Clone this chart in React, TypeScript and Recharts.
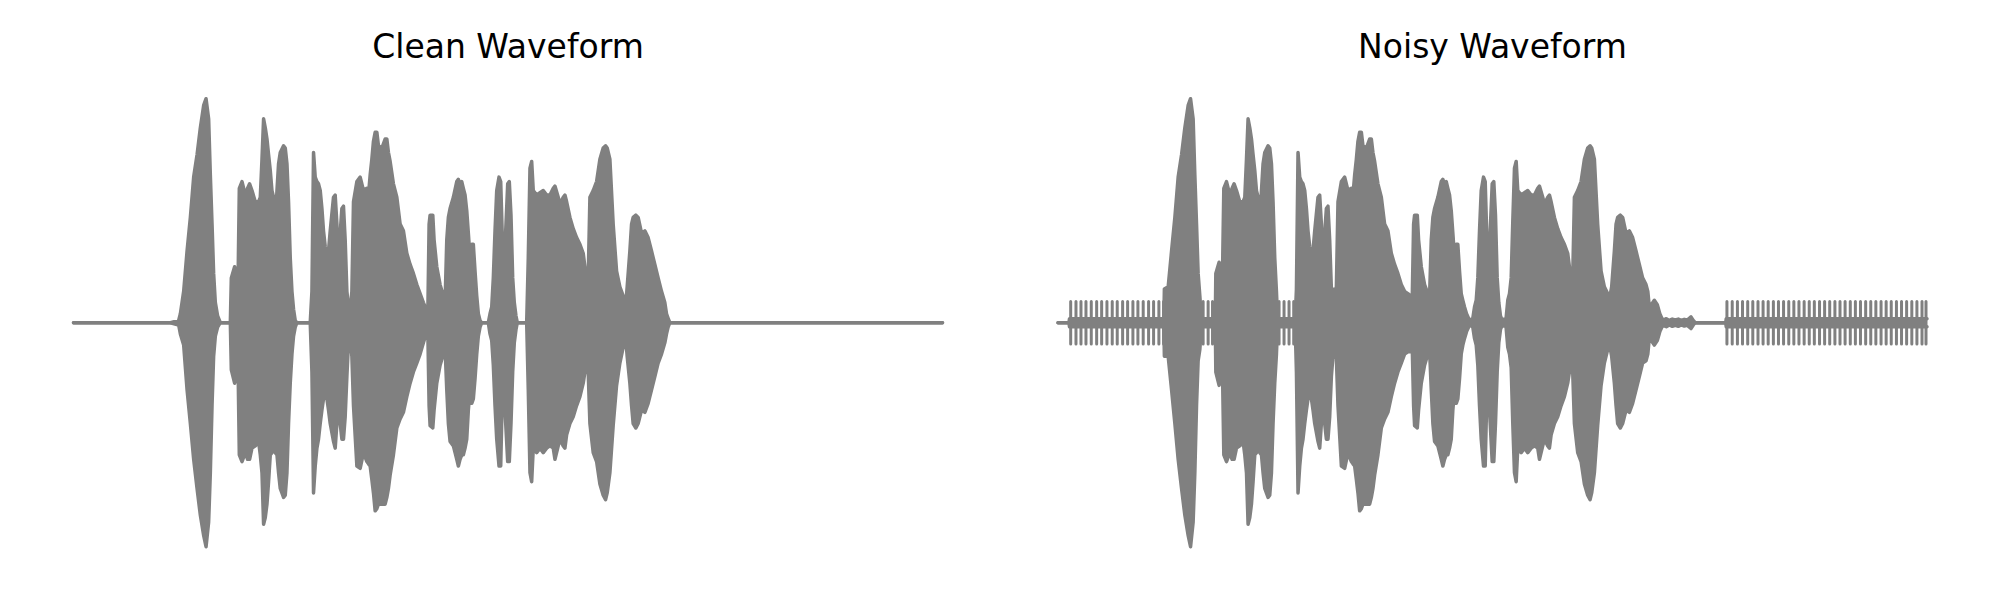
import React from 'react';
import { ComposedChart, Area, Line, XAxis, YAxis } from 'recharts';

const panelTitles = ['Clean Waveform', 'Noisy Waveform'];

// [time (frame), upper envelope, lower envelope]
const cleanEnvelope: [number, number, number][] = [
  [0, 0, 0], [97, 0, 0], [105.3, 0.01, -0.01], [107, 0.04, -0.05], [110.3, 0.14, -0.1],
  [113.7, 0.32, -0.3], [117, 0.47, -0.45], [120.3, 0.65, -0.61], [123.7, 0.75, -0.74],
  [127, 0.87, -0.86], [130.3, 0.97, -0.95], [132.7, 1.0, -1.0], [135.3, 0.91, -0.89],
  [137, 0.66, -0.67], [138.7, 0.44, -0.37], [140.3, 0.22, -0.15], [142, 0.09, -0.06],
  [144.3, 0.03, -0.02], [147, 0, 0], [157, 0, 0], [158, 0.2, -0.21], [161.3, 0.25, -0.27],
  [164.7, 0.17, -0.18], [166, 0.6, -0.59], [168.7, 0.63, -0.62], [172, 0.57, -0.58],
  [174.3, 0.6, -0.61], [176.3, 0.62, -0.61], [178.7, 0.59, -0.56], [182, 0.54, -0.55],
  [185.3, 0.54, -0.53], [187, 0.56, -0.59], [188.7, 0.73, -0.67], [190.3, 0.91, -0.9],
  [192, 0.87, -0.87], [193.7, 0.82, -0.81], [195.3, 0.75, -0.71], [197, 0.68, -0.59],
  [198.7, 0.59, -0.58], [200.3, 0.56, -0.56], [202, 0.44, -0.58], [203.7, 0.59, -0.59],
  [205.3, 0.71, -0.67], [207, 0.76, -0.74], [210.3, 0.79, -0.78], [212, 0.78, -0.77],
  [213.7, 0.71, -0.67], [215.3, 0.54, -0.45], [217, 0.29, -0.27], [218.7, 0.14, -0.14],
  [220.3, 0.06, -0.06], [222, 0.01, -0.02], [223.7, 0, 0], [237, 0, 0], [238.7, 0.14, -0.22],
  [240.3, 0.76, -0.76], [242, 0.65, -0.64], [243.7, 0.63, -0.56], [245.3, 0.62, -0.52],
  [247, 0.59, -0.45], [248.7, 0.51, -0.39], [250.3, 0.41, -0.34], [252, 0.34, -0.33],
  [253.7, 0.29, -0.34], [255.3, 0.32, -0.39], [257, 0.41, -0.45], [260.3, 0.56, -0.53],
  [262, 0.57, -0.56], [263.7, 0.44, -0.45], [265.3, 0.2, -0.27], [267, 0.4, -0.45],
  [268.7, 0.51, -0.52], [270.3, 0.52, -0.52], [272, 0.37, -0.42], [273.7, 0.14, -0.24],
  [275.3, 0.07, -0.09], [277, 0.06, -0.06], [278.7, 0.14, -0.15], [280.3, 0.54, -0.37],
  [283.7, 0.63, -0.64], [287, 0.65, -0.65], [290.3, 0.59, -0.58], [293.7, 0.6, -0.62],
  [295.3, 0.57, -0.63], [297, 0.66, -0.64], [298.7, 0.73, -0.7], [300.3, 0.81, -0.76],
  [302, 0.85, -0.84], [303.7, 0.85, -0.83], [305.3, 0.79, -0.81], [308.7, 0.78, -0.81],
  [312, 0.82, -0.81], [313.7, 0.82, -0.78], [315.3, 0.76, -0.74], [317, 0.72, -0.68],
  [320.3, 0.62, -0.59], [323.7, 0.56, -0.47], [327, 0.44, -0.43], [330.3, 0.41, -0.4],
  [333.7, 0.31, -0.33], [337, 0.26, -0.27], [340.3, 0.22, -0.22], [343.7, 0.17, -0.18],
  [347, 0.13, -0.14], [350.3, 0.09, -0.09], [353, 0.06, -0.05], [354.7, 0.03, -0.03],
  [356, 0.44, -0.37], [357, 0.48, -0.46], [359.7, 0.48, -0.47], [361, 0.37, -0.39],
  [363.7, 0.25, -0.27], [367, 0.17, -0.19], [370.3, 0.12, -0.14], [372, 0.09, -0.11],
  [373.7, 0.37, -0.3], [375.3, 0.47, -0.45], [377, 0.51, -0.53], [380.3, 0.56, -0.55],
  [383.7, 0.63, -0.61], [385.3, 0.64, -0.64], [387, 0.62, -0.61], [388.7, 0.63, -0.59],
  [390.3, 0.6, -0.59], [392, 0.57, -0.56], [393.7, 0.5, -0.52], [395.3, 0.4, -0.39],
  [397, 0.29, -0.3], [398.7, 0.35, -0.36], [400.3, 0.35, -0.34], [402, 0.23, -0.25],
  [403.7, 0.12, -0.14], [405.3, 0.04, -0.06], [407, 0.01, -0.02], [408.7, 0, 0],
  [415.3, 0, 0], [417, 0.04, -0.05], [418.7, 0.07, -0.08], [420.3, 0.2, -0.19],
  [422, 0.41, -0.37], [423.7, 0.59, -0.52], [426, 0.65, -0.64], [427.7, 0.63, -0.64],
  [429.7, 0.32, -0.25], [431, 0.22, -0.3], [432.7, 0.41, -0.45], [434.7, 0.62, -0.62],
  [436.3, 0.63, -0.62], [438, 0.48, -0.45], [439.7, 0.2, -0.22], [441.3, 0.09, -0.09],
  [443, 0.03, -0.03], [444.3, 0, 0], [453.7, 0, 0], [455.3, 0.29, -0.3], [457, 0.69, -0.67],
  [458.7, 0.72, -0.71], [460.3, 0.59, -0.56], [463.7, 0.57, -0.58], [467, 0.58, -0.56],
  [470.3, 0.59, -0.58], [473.7, 0.57, -0.56], [477, 0.57, -0.55], [480.3, 0.6, -0.56],
  [482, 0.61, -0.61], [485.3, 0.56, -0.55], [487, 0.53, -0.52], [490.3, 0.56, -0.55],
  [492, 0.57, -0.56], [493.7, 0.54, -0.5], [497, 0.47, -0.45], [500.3, 0.42, -0.42],
  [503.7, 0.38, -0.37], [507, 0.35, -0.33], [510.3, 0.31, -0.27], [512, 0.25, -0.22],
  [513.7, 0.19, -0.19], [515.3, 0.2, -0.22], [517, 0.56, -0.45], [520.3, 0.59, -0.58],
  [523.7, 0.63, -0.62], [527, 0.73, -0.72], [530.3, 0.78, -0.77], [532.7, 0.79, -0.79],
  [534.3, 0.78, -0.76], [537, 0.73, -0.67], [540.3, 0.44, -0.46], [543.7, 0.23, -0.28],
  [547, 0.16, -0.18], [550.3, 0.12, -0.11], [552.7, 0.07, -0.06], [554.3, 0.16, -0.15],
  [557, 0.32, -0.27], [558.7, 0.44, -0.37], [560.3, 0.47, -0.45], [563, 0.48, -0.47],
  [565.3, 0.47, -0.45], [568.7, 0.4, -0.39], [572, 0.41, -0.4], [575.3, 0.38, -0.36],
  [578.7, 0.32, -0.3], [582, 0.26, -0.24], [585.3, 0.2, -0.18], [588.7, 0.14, -0.14],
  [592, 0.09, -0.09], [593.7, 0.04, -0.05], [595.3, 0.02, -0.02], [597, 0, 0], [870, 0, 0],
];

const noisyEnvelope: [number, number, number][] = [
  [0, 0, 0], [11, 0, 0], [11.5, 0.018, -0.018], [106, 0.018, -0.018], [106.5, 0.15, -0.15],
  [110.3, 0.16, -0.15], [113.7, 0.32, -0.3], [117, 0.47, -0.45], [120.3, 0.65, -0.61],
  [123.7, 0.75, -0.74], [127, 0.87, -0.86], [130.3, 0.97, -0.95], [132.7, 1.0, -1.0],
  [135.3, 0.91, -0.89], [137, 0.66, -0.67], [138.7, 0.44, -0.37], [140.3, 0.22, -0.17],
  [142, 0.12, -0.12], [143.5, 0.018, -0.018], [157.5, 0.018, -0.018], [158, 0.22, -0.22],
  [161.3, 0.27, -0.28], [164.7, 0.22, -0.22], [166, 0.6, -0.59], [168.7, 0.63, -0.62],
  [172, 0.57, -0.58], [174.3, 0.6, -0.61], [176.3, 0.62, -0.61], [178.7, 0.59, -0.56],
  [182, 0.54, -0.55], [185.3, 0.54, -0.53], [187, 0.56, -0.59], [188.7, 0.73, -0.67],
  [190.3, 0.91, -0.9], [192, 0.87, -0.87], [193.7, 0.82, -0.81], [195.3, 0.75, -0.71],
  [197, 0.68, -0.59], [198.7, 0.59, -0.58], [200.3, 0.56, -0.56], [202, 0.44, -0.58],
  [203.7, 0.59, -0.59], [205.3, 0.71, -0.67], [207, 0.76, -0.74], [210.3, 0.79, -0.78],
  [212, 0.78, -0.77], [213.7, 0.71, -0.67], [215.3, 0.54, -0.45], [217, 0.29, -0.27],
  [218.7, 0.14, -0.14], [219.8, 0.018, -0.018], [237.5, 0.018, -0.018], [238.7, 0.15, -0.22],
  [240.3, 0.76, -0.76], [242, 0.65, -0.64], [243.7, 0.63, -0.56], [245.3, 0.62, -0.52],
  [247, 0.59, -0.45], [248.7, 0.51, -0.39], [250.3, 0.41, -0.34], [252, 0.34, -0.33],
  [253.7, 0.29, -0.34], [255.3, 0.32, -0.39], [257, 0.41, -0.45], [260.3, 0.56, -0.53],
  [262, 0.57, -0.56], [263.7, 0.44, -0.45], [265.3, 0.2, -0.27], [267, 0.4, -0.45],
  [268.7, 0.51, -0.52], [270.3, 0.52, -0.52], [272, 0.37, -0.42], [273.7, 0.15, -0.24],
  [275.3, 0.15, -0.15], [277, 0.14, -0.15], [278.7, 0.16, -0.16], [280.3, 0.54, -0.37],
  [283.7, 0.63, -0.64], [287, 0.65, -0.65], [290.3, 0.59, -0.58], [293.7, 0.6, -0.62],
  [295.3, 0.57, -0.63], [297, 0.66, -0.64], [298.7, 0.73, -0.7], [300.3, 0.81, -0.76],
  [302, 0.85, -0.84], [303.7, 0.85, -0.83], [305.3, 0.79, -0.81], [308.7, 0.78, -0.81],
  [312, 0.82, -0.81], [313.7, 0.82, -0.78], [315.3, 0.76, -0.74], [317, 0.72, -0.68],
  [320.3, 0.62, -0.59], [323.7, 0.56, -0.47], [327, 0.44, -0.43], [330.3, 0.41, -0.4],
  [333.7, 0.31, -0.33], [337, 0.26, -0.27], [340.3, 0.22, -0.22], [343.7, 0.17, -0.18],
  [347, 0.14, -0.14], [350.3, 0.13, -0.13], [353, 0.12, -0.13], [354.7, 0.12, -0.12],
  [356, 0.44, -0.37], [357, 0.48, -0.46], [359.7, 0.48, -0.47], [361, 0.37, -0.39],
  [363.7, 0.25, -0.27], [367, 0.17, -0.19], [370.3, 0.13, -0.14], [372, 0.12, -0.12],
  [373.7, 0.37, -0.3], [375.3, 0.47, -0.45], [377, 0.51, -0.53], [380.3, 0.56, -0.55],
  [383.7, 0.63, -0.61], [385.3, 0.64, -0.64], [387, 0.62, -0.61], [388.7, 0.63, -0.59],
  [390.3, 0.6, -0.59], [392, 0.57, -0.56], [393.7, 0.5, -0.52], [395.3, 0.4, -0.39],
  [397, 0.29, -0.3], [398.7, 0.35, -0.36], [400.3, 0.35, -0.34], [402, 0.23, -0.25],
  [403.7, 0.13, -0.14], [405.3, 0.1, -0.1], [407, 0.07, -0.07], [409, 0.04, -0.04],
  [411, 0.02, -0.02], [413, 0.01, -0.01], [415.3, 0.02, -0.02], [417, 0.07, -0.07],
  [418.7, 0.1, -0.1], [420.3, 0.2, -0.19], [422, 0.41, -0.37], [423.7, 0.59, -0.52],
  [426, 0.65, -0.64], [427.7, 0.63, -0.64], [429.7, 0.32, -0.25], [431, 0.22, -0.3],
  [432.7, 0.41, -0.45], [434.7, 0.62, -0.62], [436.3, 0.63, -0.62], [438, 0.48, -0.45],
  [439.7, 0.2, -0.22], [441.3, 0.09, -0.09], [443, 0.03, -0.03], [444.3, 0.015, -0.015],
  [448.5, 0.015, -0.015], [450.3, 0.1, -0.11], [452, 0.13, -0.14], [453.7, 0.2, -0.2],
  [455.3, 0.45, -0.45], [457, 0.69, -0.67], [458.7, 0.72, -0.71], [460.3, 0.59, -0.56],
  [463.7, 0.57, -0.58], [467, 0.58, -0.56], [470.3, 0.59, -0.58], [473.7, 0.57, -0.56],
  [477, 0.57, -0.55], [480.3, 0.6, -0.56], [482, 0.61, -0.61], [485.3, 0.56, -0.55],
  [487, 0.53, -0.52], [490.3, 0.56, -0.55], [492, 0.57, -0.56], [493.7, 0.54, -0.5],
  [497, 0.47, -0.45], [500.3, 0.42, -0.42], [503.7, 0.38, -0.37], [507, 0.35, -0.33],
  [510.3, 0.31, -0.27], [512, 0.25, -0.22], [513.7, 0.19, -0.19], [515.3, 0.2, -0.22],
  [517, 0.56, -0.45], [520.3, 0.59, -0.58], [523.7, 0.63, -0.62], [527, 0.73, -0.72],
  [530.3, 0.78, -0.77], [532.7, 0.79, -0.79], [534.3, 0.78, -0.76], [537, 0.73, -0.67],
  [540.3, 0.44, -0.46], [543.7, 0.23, -0.28], [547, 0.16, -0.18], [550.3, 0.13, -0.12],
  [552.7, 0.12, -0.11], [554.3, 0.16, -0.15], [557, 0.32, -0.27], [558.7, 0.44, -0.37],
  [560.3, 0.47, -0.45], [563, 0.48, -0.47], [565.3, 0.47, -0.45], [568.7, 0.4, -0.39],
  [572, 0.41, -0.4], [575.3, 0.38, -0.36], [578.7, 0.32, -0.3], [582, 0.26, -0.24],
  [585.3, 0.2, -0.18], [588.7, 0.17, -0.17], [590.5, 0.14, -0.14], [592.2, 0.06, -0.06],
  [594, 0.08, -0.08], [597, 0.1, -0.1], [600, 0.08, -0.08], [602.5, 0.04, -0.04],
  [604.5, 0.02, -0.02], [606, 0.012, -0.012], [609, 0.018, -0.018], [612, 0.01, -0.01],
  [615, 0.016, -0.016], [618, 0.012, -0.012], [621, 0.016, -0.016], [624, 0.01, -0.01],
  [627, 0.015, -0.015], [630, 0.012, -0.012], [633.7, 0.026, -0.026], [636, 0.01, -0.01],
  [638, 0, 0], [668.5, 0, 0], [669, 0.018, -0.018], [870, 0.018, -0.018],
];

// positions of the periodic noise bursts visible in the quiet parts of the noisy signal
const noiseSpikeTimes = [
  12.7, 18, 23, 28, 33.3, 38.7, 43.7, 49, 54.3, 59.3, 64.7, 69.7, 75, 80, 85.3, 90.7, 95.7,
  101, 105.7,
  145.3, 150.3, 154.7,
  221.3, 226.3, 231.3, 236,
  669.7, 675, 680.2, 685.3, 690.5, 695.6, 700.8, 705.9, 711, 716.2, 721.3, 726.4, 731.6,
  736.7, 741.8, 747, 752.1, 757.2, 762.4, 767.5, 772.6, 777.8, 782.9, 788, 793.2, 798.3,
  803.4, 808.6, 813.7, 818.8, 824, 829.1, 834.2, 839.4, 844.5, 849.6, 854.8, 859.9, 865, 869,
];
const noiseSpikeAmplitude = 0.095;

const GRAY = '#808080';

const toRows = (env: [number, number, number][]) =>
  env.map(([t, hi, lo]) => ({ t, range: [lo, hi] }));

const toSpikeRows = (times: number[], amp: number) => {
  const rows: { t: number; v: number }[] = [];
  times.forEach((t) => {
    rows.push({ t, v: 0 }, { t, v: amp }, { t, v: -amp }, { t, v: 0 });
  });
  return rows;
};

type PanelProps = {
  left: number;
  margin: { top: number; right: number; bottom: number; left: number };
  env: [number, number, number][];
  spikes?: { t: number; v: number }[];
};

function Panel({ left, margin, env, spikes }: PanelProps) {
  return (
    <div style={{ position: 'absolute', left, top: 0, width: 1000, height: 600 }}>
      <ComposedChart width={1000} height={600} data={toRows(env)} margin={margin}>
        <XAxis type="number" dataKey="t" domain={[0, 870]} hide />
        <YAxis type="number" domain={[-1.1, 1.1]} hide />
        <Area
          type="linear"
          dataKey="range"
          fill={GRAY}
          fillOpacity={1}
          stroke={GRAY}
          strokeWidth={3.5}
          strokeLinejoin="round"
          strokeLinecap="round"
          dot={false}
          activeDot={false}
          isAnimationActive={false}
        />
        {spikes && (
          <Line
            data={spikes}
            type="linear"
            dataKey="v"
            stroke={GRAY}
            strokeWidth={3}
            strokeLinecap="round"
            strokeLinejoin="round"
            dot={false}
            activeDot={false}
            isAnimationActive={false}
          />
        )}
      </ComposedChart>
    </div>
  );
}

export default function App() {
  const spikes = toSpikeRows(noiseSpikeTimes, noiseSpikeAmplitude);
  return (
    <div style={{ position: 'absolute', left: 0, top: 0, width: 2000, height: 600, background: '#ffffff' }}>
      <Panel left={0} margin={{ top: 76.3, right: 57.5, bottom: 30.9, left: 73.5 }} env={cleanEnvelope} />
      <Panel left={1000} margin={{ top: 76.3, right: 73, bottom: 30.9, left: 58 }} env={noisyEnvelope} spikes={spikes} />
      <svg width={2000} height={600} style={{ position: 'absolute', left: 0, top: 0, pointerEvents: 'none' }}>
        <text x={508} y={58} textAnchor="middle" fontFamily="DejaVu Sans" fontSize={33} fill="#000000">
          {panelTitles[0]}
        </text>
        <text x={1492.5} y={58} textAnchor="middle" fontFamily="DejaVu Sans" fontSize={33} fill="#000000">
          {panelTitles[1]}
        </text>
      </svg>
    </div>
  );
}
